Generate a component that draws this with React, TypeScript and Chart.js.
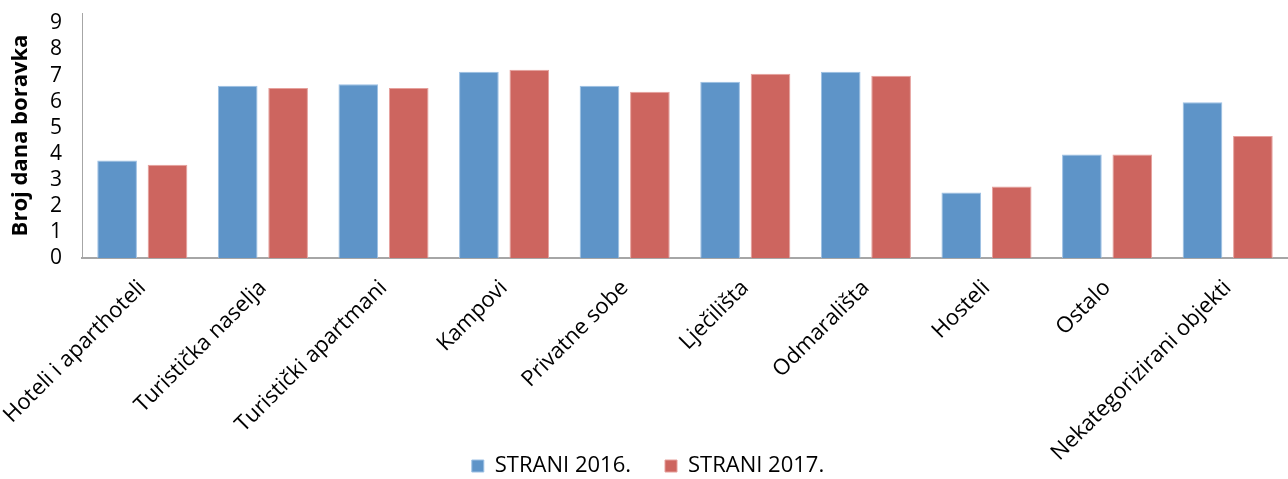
import React, { useEffect, useRef } from "react";
import { Chart, registerables } from "chart.js";

Chart.register(...registerables);

const categories = [
  "Hoteli i aparthoteli",
  "Turistička naselja",
  "Turistički apartmani",
  "Kampovi",
  "Privatne sobe",
  "Lječilišta",
  "Odmarališta",
  "Hosteli",
  "Ostalo",
  "Nekategorizirani objekti",
];
const series2016 = [3.74, 6.61, 6.67, 7.15, 6.61, 6.76, 7.15, 2.51, 3.97, 5.98];
const series2017 = [3.58, 6.52, 6.52, 7.22, 6.38, 7.07, 6.99, 2.74, 3.97, 4.68];
const yTicks = [0, 1, 2, 3, 4, 5, 6, 7, 8, 9];
const seriesLabels = ["STRANI 2016.", "STRANI 2017."];

const FONT = "'Open Sans', 'Noto Sans', sans-serif";
const LEGEND_HEIGHT = 58;

const legendFix = {
  id: "legendFix",
  beforeUpdate(chart: any) {
    const lg = chart.legend;
    if (lg && !lg.__patched) {
      const orig = lg.fit.bind(lg);
      lg.fit = () => {
        orig();
        lg.height = LEGEND_HEIGHT;
      };
      lg.__patched = true;
    }
  },
};

export default function App() {
  const ref = useRef<HTMLCanvasElement | null>(null);
  useEffect(() => {
    if (!ref.current) return;
    const chart = new Chart(ref.current, {
      type: "bar",
      data: {
        labels: categories,
        datasets: [
          {
            label: seriesLabels[0],
            data: series2016,
            backgroundColor: "#5E94C8",
            borderColor: "#9CC0E4",
            borderWidth: 1,
            barPercentage: 0.787,
            categoryPercentage: 0.836,
          },
          {
            label: seriesLabels[1],
            data: series2017,
            backgroundColor: "#CD655F",
            borderColor: "#E6A09C",
            borderWidth: 1,
            barPercentage: 0.787,
            categoryPercentage: 0.836,
          },
        ],
      },
      plugins: [legendFix],
      options: {
        animation: false,
        responsive: false,
        maintainAspectRatio: false,
        layout: { padding: { top: 13, right: -8, left: 0, bottom: 0 } },
        plugins: {
          tooltip: { enabled: false },
          legend: {
            position: "bottom",
            labels: {
              boxWidth: 12,
              boxHeight: 12,
              padding: 34,
              color: "#000",
              font: { family: FONT, size: 22 },
            },
          },
        },
        scales: {
          x: {
            afterFit: (scale: any) => {
              scale.height = 163;
              scale.paddingLeft = 0;
              scale.paddingRight = 0;
              scale._computeLabelArea = () => undefined;
            },
            grid: { display: false, drawTicks: false },
            border: { display: true, color: "#A6A6A6", width: 2 },
            ticks: {
              color: "#000",
              font: { family: FONT, size: 22 },
              minRotation: 45,
              maxRotation: 45,
              autoSkip: false,
              padding: 17,
              labelOffset: 0,
            },
          },
          y: {
            min: 0,
            max: 9.4,
            afterBuildTicks: (scale: any) => {
              scale.ticks = yTicks.map((v) => ({ value: v }));
            },
            afterFit: (scale: any) => {
              scale.width = 82;
              scale.paddingTop = 0;
              scale.paddingBottom = 0;
            },
            grid: { display: false, drawTicks: false },
            border: { display: true, color: "#A6A6A6", width: 1 },
            ticks: {
              color: "#000",
              font: { family: FONT, size: 21 },
              padding: 20,
              autoSkip: false,
            },
            title: {
              display: true,
              text: "Broj dana boravka",
              color: "#000",
              font: { family: FONT, size: 22, weight: "bold" },
              padding: { top: 8, bottom: 0 },
            },
          },
        },
      },
    });
    return () => chart.destroy();
  }, []);
  return (
    <div style={{ position: "fixed", left: 0, top: 0, width: 1288, height: 479 }}>
      <canvas ref={ref} width={1288} height={479} style={{ width: 1288, height: 479 }} />
    </div>
  );
}
